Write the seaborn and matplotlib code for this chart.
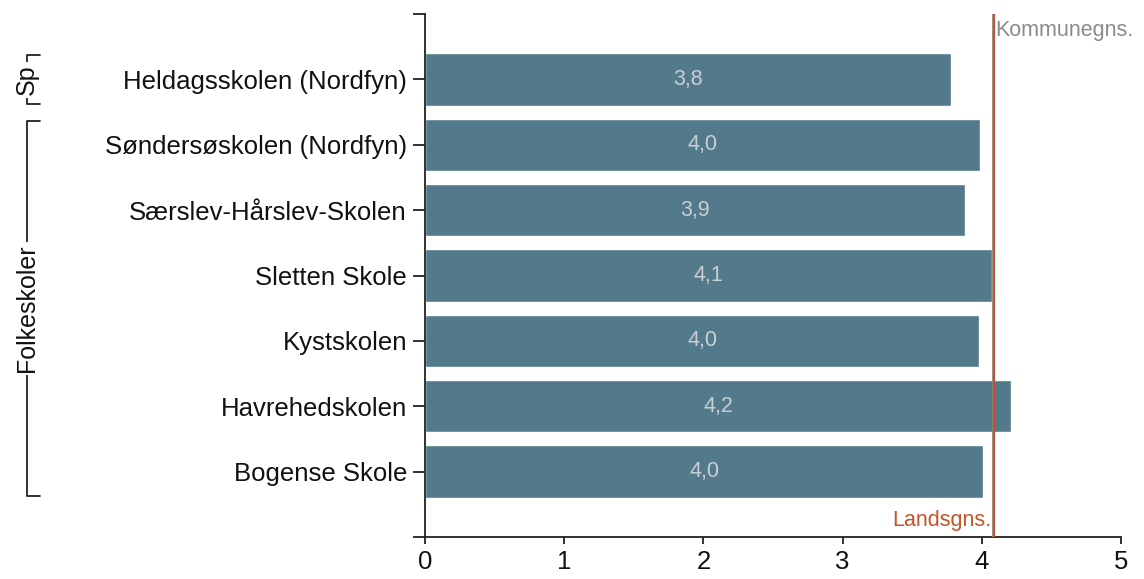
import numpy as np
import pandas as pd
import matplotlib
matplotlib.use("Agg")
import matplotlib.pyplot as plt
import matplotlib.transforms as mtransforms
import seaborn as sns

# data
schools = ["Heldagsskolen (Nordfyn)", "Søndersøskolen (Nordfyn)", "Særslev-Hårslev-Skolen",
           "Sletten Skole", "Kystskolen", "Havrehedskolen", "Bogense Skole"]
values = [3.78, 3.99, 3.88, 4.07, 3.98, 4.21, 4.01]
labels = ["3,8", "4,0", "3,9", "4,1", "4,0", "4,2", "4,0"]
kommune_avg = 4.08
lands_avg = 4.09
groups = [("Sp", 0, 0), ("Folkeskoler", 1, 6)]

df = pd.DataFrame({"skole": schools, "score": values})

sns.set_theme(style="white")
plt.rcParams["font.family"] = ["Liberation Sans", "DejaVu Sans"]

fig = plt.figure(figsize=(11.44, 5.79), dpi=100)
ax = fig.add_axes([0.3715, 0.0725, 0.6084, 0.9033])

sns.barplot(data=df, x="score", y="skole", color="#537a8b", saturation=1,
            width=0.8, ax=ax, orient="h")

for i, (v, lab) in enumerate(zip(values, labels)):
    ax.text(v / 2, i, lab, ha="center", va="center", color="#c9cfd2", fontsize=15.5)

ax.axvline(kommune_avg, color="#8a8a8a", lw=2, zorder=3)
ax.axvline(lands_avg, color="#c4532a", lw=1.5, zorder=4)
ax.text(kommune_avg + 0.02, -0.75, "Kommunegns.", color="#8a8a8a", fontsize=15.5,
        ha="left", va="center")
ax.text(lands_avg - 0.02, 6.75, "Landsgns.", color="#c4532a", fontsize=15.5,
        ha="right", va="center")

ax.set_xlim(0, 5)
ax.set_ylim(7, -1)
ax.set_xticks([0, 1, 2, 3, 4, 5])
ax.set_yticks(range(len(schools)))
ax.set_yticks([-1, 7], minor=True)
ax.set_xlabel("")
ax.set_ylabel("")
ax.tick_params(axis="y", which="both", length=9, width=1.3, color="#222222",
               left=True, labelsize=18.5, labelcolor="#111111", pad=4)
ax.tick_params(axis="x", length=5, width=1.3, color="#222222", bottom=True,
               labelsize=18.5, labelcolor="#111111", pad=4)
for s in ["top", "right"]:
    ax.spines[s].set_visible(False)
for s in ["left", "bottom"]:
    ax.spines[s].set_color("#222222")
    ax.spines[s].set_linewidth(1.3)

# group brackets on the far left
trans = mtransforms.blended_transform_factory(fig.transFigure, ax.transData)
xl, xr = 27 / 1144, 40 / 1144
for name, a, b in groups:
    top, bot = a - 0.37, b + 0.38
    ax.plot([xr, xl, xl, xr], [top, top, bot, bot], color="#222222", lw=1.3,
            transform=trans, clip_on=False)
    ax.text(xl, (top + bot) / 2, name, rotation=90, ha="center", va="center",
            fontsize=18, color="#111111", transform=trans,
            bbox=dict(facecolor="white", edgecolor="none", pad=2))

fig.savefig("out.png", dpi=100)
